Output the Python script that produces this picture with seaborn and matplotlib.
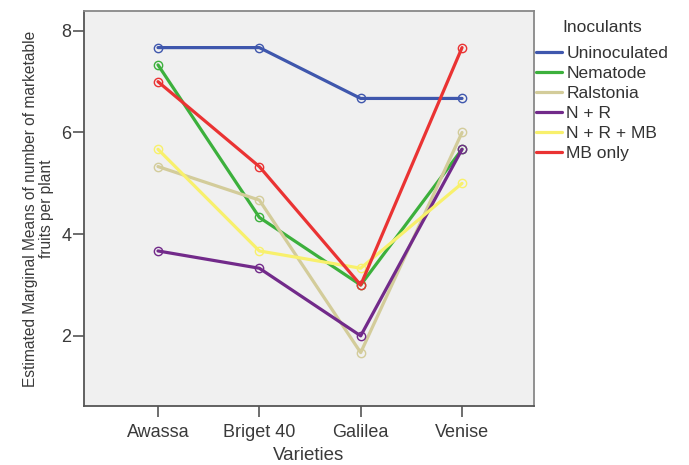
import matplotlib
matplotlib.use("Agg")
import matplotlib.pyplot as plt
from matplotlib.lines import Line2D
import pandas as pd
import seaborn as sns

varieties = ["Awassa", "Briget 40", "Galilea", "Venise"]
inoculants = ["Uninoculated", "Nematode", "Ralstonia", "N + R", "N + R + MB", "MB only"]

uninoculated = [7.67, 7.67, 6.67, 6.67]
nematode = [7.33, 4.33, 3.00, 5.67]
ralstonia = [5.33, 4.67, 1.67, 6.00]
n_r = [3.67, 3.33, 2.00, 5.67]
n_r_mb = [5.67, 3.67, 3.33, 5.00]
mb_only = [7.00, 5.33, 3.00, 7.67]

colors = ["#3f57ad", "#3cb03c", "#d3cc9a", "#722a8a", "#f8f06c", "#ea3333"]

series = [uninoculated, nematode, ralstonia, n_r, n_r_mb, mb_only]
rows = []
for name, vals in zip(inoculants, series):
    for v, y in zip(varieties, vals):
        rows.append({"Varieties": v, "Inoculants": name, "mean": y})
df = pd.DataFrame(rows)

sns.set_style("white")
plt.rcParams["font.family"] = ["Liberation Sans", "DejaVu Sans"]

fig = plt.figure(figsize=(6.89, 4.65), dpi=100)
ax = fig.add_axes([84 / 689, 59 / 465, 450 / 689, 395 / 465])
ax.set_facecolor("#f0f0f0")

sns.lineplot(data=df, x="Varieties", y="mean", hue="Inoculants",
             hue_order=inoculants, palette=colors, marker="o",
             markersize=6, linewidth=2.3, legend=False, ax=ax, sort=False)

for line in ax.get_lines():
    c = line.get_color()
    line.set_markerfacecolor("none")
    line.set_markeredgecolor(c)
    line.set_markeredgewidth(1.0)

ax.set_xlim(-0.73, 3.71)
ax.set_ylim(0.62, 8.39)
ax.set_yticks([2, 4, 6, 8])
ax.set_xticks(range(len(varieties)))
ax.set_xticklabels(varieties)

for s in ax.spines.values():
    s.set_visible(True)
    s.set_color("#555555")
    s.set_linewidth(1.3)
ax.spines["top"].set_color("#888888")
ax.spines["right"].set_color("#888888")

ax.tick_params(axis="both", which="both", direction="out", length=8, width=1.2,
               color="#555555", labelcolor="#3a3a3a", labelsize=13,
               bottom=True, left=True)
ax.tick_params(axis="x", pad=5)
ax.tick_params(axis="y", pad=1)

ax.set_xlabel("Varieties", fontsize=13.5, color="#3a3a3a")
ax.xaxis.set_label_coords(0.5, -0.105)
ax.set_ylabel("Estimated Marginal Means of number of marketable\nfruits per plant",
              fontsize=11.2, color="#3a3a3a", linespacing=1.05)
ax.yaxis.set_label_coords(-0.067, 0.5)

handles = [Line2D([0], [0], color=c, lw=2.3) for c in colors]
leg = fig.legend(handles, inoculants, title="Inoculants", loc="upper left",
                 bbox_to_anchor=(529 / 689, 1 - 13 / 465), frameon=False,
                 fontsize=12.5, title_fontsize=12.5, handlelength=1.5,
                 handletextpad=0.25, labelspacing=0.28, borderaxespad=0)
leg._legend_box.sep = 8
for t in leg.get_texts():
    t.set_color("#333333")
leg.get_title().set_color("#333333")

fig.savefig("out.png", dpi=100)
